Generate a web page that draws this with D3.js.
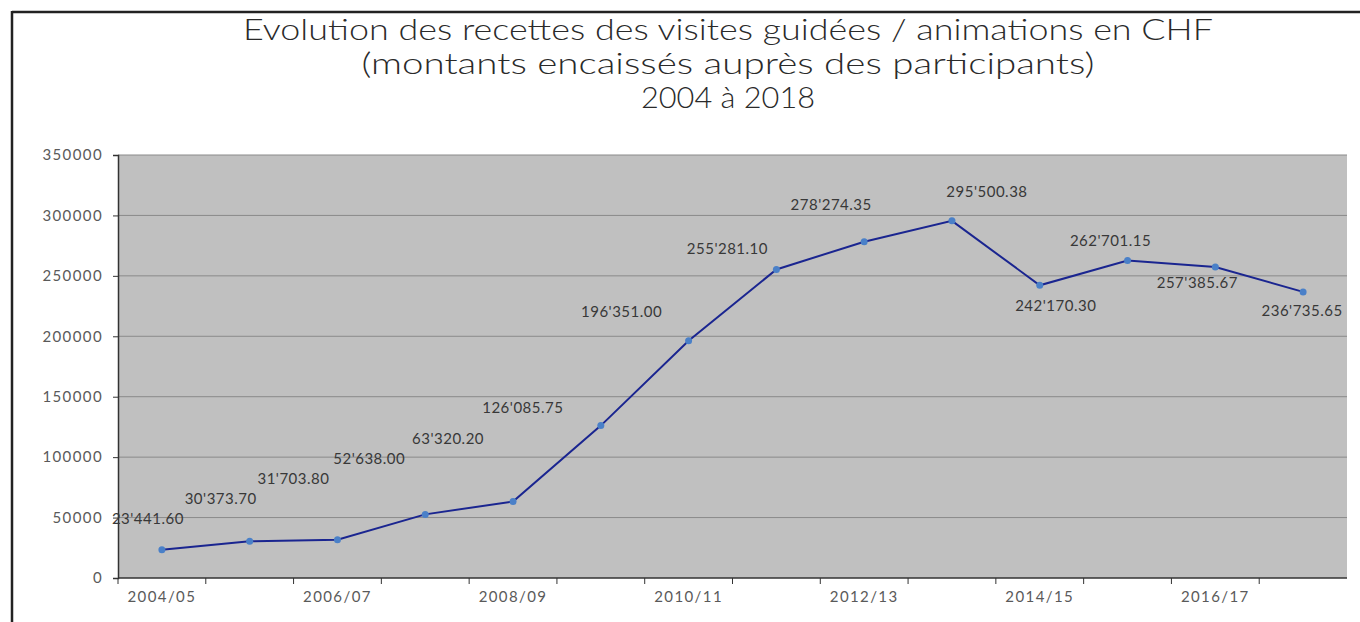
<!DOCTYPE html>
<html>
<head>
<meta charset="utf-8">
<script src="https://cdnjs.cloudflare.com/ajax/libs/d3/7.8.5/d3.min.js"></script>
<style>
  body { margin: 0; background: #fff; }
  text { font-family: "Lato", "Open Sans", sans-serif; }
</style>
</head>
<body>
<div id="canvas"></div>
<script>
"use strict"

// data
let seasons = ["2004/05","2005/06","2006/07","2007/08","2008/09","2009/10","2010/11",
               "2011/12","2012/13","2013/14","2014/15","2015/16","2016/17","2017/18"];
let recettes = [23441.60, 30373.70, 31703.80, 52638.00, 63320.20, 126085.75, 196351.00,
                255281.10, 278274.35, 295500.38, 242170.30, 262701.15, 257385.67, 236735.65];
let yTicks = [0, 50000, 100000, 150000, 200000, 250000, 300000, 350000];
let titleLines = ["Evolution des recettes des visites guidées / animations en CHF",
                  "(montants encaissés auprès des participants)",
                  "2004 à 2018"];

// label nudges (px) relative to each point, as placed in the original
let labelNudge = [[-14,-31],[-29,-42],[-44,-61],[-56,-55],[-65,-62],[-78,-18],[-67,-29],
                  [-49,-20],[-33,-37],[35,-29],[16,21],[-17,-20],[-18,16],[-1,19]];
// the original title font is wider, so stretch each line to its width
let titleWidths = [970, 733, 174];

let drawingWidth = 1360;
let drawingHeight = 622;

let plotL = 118, plotR = 1347, plotT = 155, plotB = 578;

let drawing = d3.select("#canvas")
    .append("svg")
    .attr("width", drawingWidth)
    .attr("height", drawingHeight);

// frame
drawing.append("line")
    .attr("x1", 12).attr("x2", drawingWidth)
    .attr("y1", 12).attr("y2", 12)
    .attr("stroke", "#222").attr("stroke-width", 2.5);
drawing.append("line")
    .attr("x1", 12).attr("x2", 12)
    .attr("y1", 11).attr("y2", drawingHeight)
    .attr("stroke", "#222").attr("stroke-width", 2.5);

// title
drawing.selectAll(".title")
    .data(titleLines)
    .enter().append("text")
    .attr("class", "title")
    .attr("x", 728)
    .attr("y", (d, i) => 40 + i * 34)
    .attr("text-anchor", "middle")
    .attr("font-size", 29)
    .attr("font-weight", 300)
    .attr("textLength", (d, i) => titleWidths[i])
    .attr("lengthAdjust", "spacingAndGlyphs")
    .attr("fill", "#2a2a2a")
    .text(d => d);

let x = d3.scaleBand().domain(seasons).range([plotL, plotR]);
let y = d3.scaleLinear().domain([0, 350000]).range([plotB, plotT]);

// plot background
drawing.append("rect")
    .attr("x", plotL).attr("y", plotT)
    .attr("width", plotR - plotL).attr("height", plotB - plotT)
    .attr("fill", "#c0c0c0");

// gridlines
drawing.append("g")
    .selectAll("line")
    .data(yTicks.filter(d => d > 0))
    .enter().append("line")
    .attr("x1", plotL).attr("x2", plotR)
    .attr("y1", d => y(d)).attr("y2", d => y(d))
    .attr("stroke", "#8a8a8a").attr("stroke-width", 1);

// y axis
let yAxis = drawing.append("g")
    .attr("transform", `translate(${plotL},0)`)
    .call(d3.axisLeft(y).tickValues(yTicks).tickFormat(d3.format("d")).tickSizeOuter(0).tickSize(5).tickPadding(10));
yAxis.select(".domain").attr("stroke", "#333").attr("stroke-width", 1.5);
yAxis.selectAll(".tick line").attr("stroke", "#333");
yAxis.selectAll("text").attr("font-family", "Lato").attr("font-size", 15).attr("fill", "#5a5a5a").attr("letter-spacing", 1.4);

// x axis: ticks on band boundaries, labels every second season
let xAxis = drawing.append("g")
    .attr("transform", `translate(0,${plotB})`);
xAxis.append("line")
    .attr("x1", plotL).attr("x2", plotR)
    .attr("stroke", "#333").attr("stroke-width", 1.5);
xAxis.selectAll(".xt")
    .data(seasons)
    .enter().append("line")
    .attr("x1", d => x(d)).attr("x2", d => x(d))
    .attr("y1", 0).attr("y2", 6)
    .attr("stroke", "#333");
xAxis.selectAll("text")
    .data(seasons.filter((d, i) => i % 2 === 0))
    .enter().append("text")
    .attr("x", d => x(d) + x.bandwidth() / 2)
    .attr("y", 24)
    .attr("text-anchor", "middle")
    .attr("font-size", 15)
    .attr("letter-spacing", 1.4)
    .attr("fill", "#5a5a5a")
    .text(d => d);

// line
let line = d3.line()
    .x((d, i) => x(seasons[i]) + x.bandwidth() / 2)
    .y(d => y(d));

drawing.append("path")
    .datum(recettes)
    .attr("d", line)
    .attr("fill", "none")
    .attr("stroke", "#1a2590")
    .attr("stroke-width", 2);

drawing.selectAll(".pt")
    .data(recettes)
    .enter().append("circle")
    .attr("cx", (d, i) => x(seasons[i]) + x.bandwidth() / 2)
    .attr("cy", d => y(d))
    .attr("r", 3.5)
    .attr("fill", "#4a80c8");

// data labels
let fmt = v => {
    let s = v.toFixed(2).split(".");
    let intPart = s[0].replace(/\B(?=(\d{3})+(?!\d))/g, "'");
    return intPart + "." + s[1];
};

drawing.selectAll(".lbl")
    .data(recettes)
    .enter().append("text")
    .attr("x", (d, i) => x(seasons[i]) + x.bandwidth() / 2 + labelNudge[i][0])
    .attr("y", (d, i) => y(d) + labelNudge[i][1] + 5)
    .attr("text-anchor", "middle")
    .attr("font-size", 15)
    .attr("letter-spacing", 0.5)
    .attr("fill", "#383838")
    .text(d => fmt(d));
</script>
</body>
</html>
